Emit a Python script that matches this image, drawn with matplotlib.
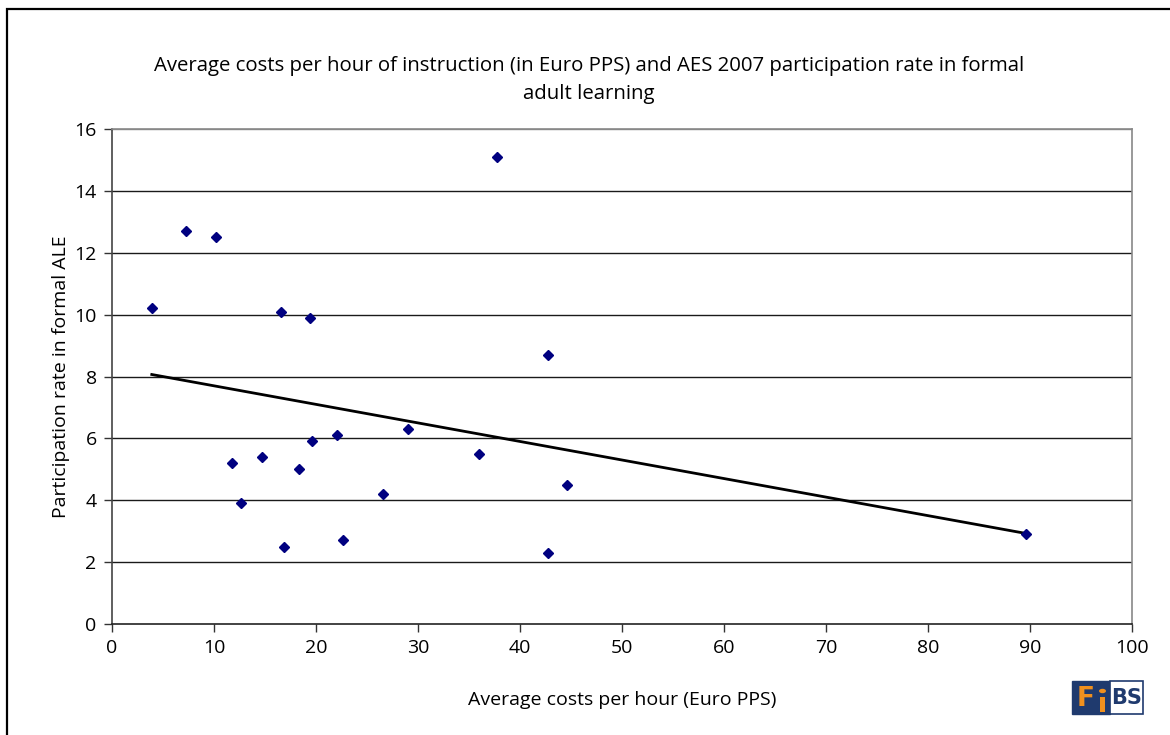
import numpy as np
import matplotlib
matplotlib.use("Agg")
import matplotlib.pyplot as plt
from matplotlib.patches import Rectangle, Circle
from matplotlib import font_manager

# Average cost per hour of instruction (Euro PPS) vs participation rate (%)
cost_per_hour = [3.9, 7.25, 10.2, 16.6, 19.4, 37.7, 42.7,
                 11.8, 12.6, 14.7, 16.9, 18.3, 19.6, 22.1,
                 22.6, 26.6, 29.0, 36.0, 42.7, 44.6, 89.6]
participation = [10.2, 12.7, 12.5, 10.1, 9.9, 15.1, 8.7,
                 5.2, 3.9, 5.4, 2.5, 5.0, 5.9, 6.1,
                 2.7, 4.2, 6.3, 5.5, 2.3, 4.5, 2.9]

x_ticks = list(range(0, 101, 10))
y_ticks = list(range(0, 17, 2))

title = ("Average costs per hour of instruction (in Euro PPS) and AES 2007 participation rate in formal\n"
         "adult learning")
x_label = "Average costs per hour (Euro PPS)"
y_label = "Participation rate in formal ALE"

available = {f.name for f in font_manager.fontManager.ttflist}
family = [f for f in ["Liberation Sans Narrow", "Open Sans", "DejaVu Sans"] if f in available]
plt.rcParams["font.family"] = family

W, H = 1170, 735
fig = plt.figure(figsize=(W / 100, H / 100), dpi=100)

# outer frame
fig.add_artist(Rectangle((7 / W, -0.05), 1.1, 1 - 9 / H + 0.05, transform=fig.transFigure,
                         fill=False, edgecolor="black", linewidth=1.6))

ax = fig.add_axes([112 / W, (H - 624) / H, (1132 - 112) / W, (624 - 129) / H])
ax.set_xlim(0, 100)
ax.set_ylim(0, 16)
ax.set_xticks(x_ticks)
ax.set_yticks(y_ticks)
ax.tick_params(axis="both", direction="out", length=6, width=1, color="#333333",
               labelsize=14, pad=5)

for y in y_ticks[1:]:
    ax.axhline(y, color="#1a1a1a" if y < 16 else "#888888", linewidth=1.0, zorder=1)

ax.spines["left"].set_color("#444444")
ax.spines["bottom"].set_color("#222222")
ax.spines["top"].set_color("#888888")
ax.spines["right"].set_color("#888888")
for s in ax.spines.values():
    s.set_linewidth(1.2)

# least-squares trend line over the data range
xs = np.array(cost_per_hour)
ys = np.array(participation)
slope, intercept = np.polyfit(xs, ys, 1)
tx = np.array([xs.min(), xs.max()])
ax.plot(tx, slope * tx + intercept, color="black", linewidth=2.0, zorder=2)

ax.plot(cost_per_hour, participation, linestyle="none", marker="D", markersize=5,
        color="#000080", zorder=3)

ax.set_xlabel(x_label, fontsize=14, labelpad=24)
ax.set_ylabel(y_label, fontsize=14, labelpad=3)

fig.text(589 / W, 1 - 80 / H, title, ha="center", va="center", fontsize=14.7,
         linespacing=1.5)

# FiBS logo
navy = "#1f3a6e"
orange = "#f0901e"
fig.add_artist(Rectangle((1072 / W, 1 - 714 / H), 38 / W, 33 / H, transform=fig.transFigure,
                         facecolor=navy, edgecolor=navy))
fig.add_artist(Rectangle((1110 / W, 1 - 714 / H), 33 / W, 33 / H, transform=fig.transFigure,
                         facecolor="white", edgecolor=navy, linewidth=1.2))
fig.text(1086 / W, 1 - 699 / H, "F", color=orange, fontsize=19, fontweight="bold",
         ha="center", va="center", family="DejaVu Sans")
fig.add_artist(Rectangle((1100 / W, 1 - 712 / H), 5 / W, 15 / H, transform=fig.transFigure,
                         facecolor=orange, edgecolor="none"))
fig.add_artist(Circle((1102.5 / W, 1 - 691 / H), 3.5 / W, transform=fig.transFigure,
                      facecolor=orange, edgecolor="none"))
fig.text(1127 / W, 1 - 698 / H, "BS", color=navy, fontsize=15, fontweight="bold",
         ha="center", va="center", family="DejaVu Sans")

fig.savefig("out.png", dpi=100)
